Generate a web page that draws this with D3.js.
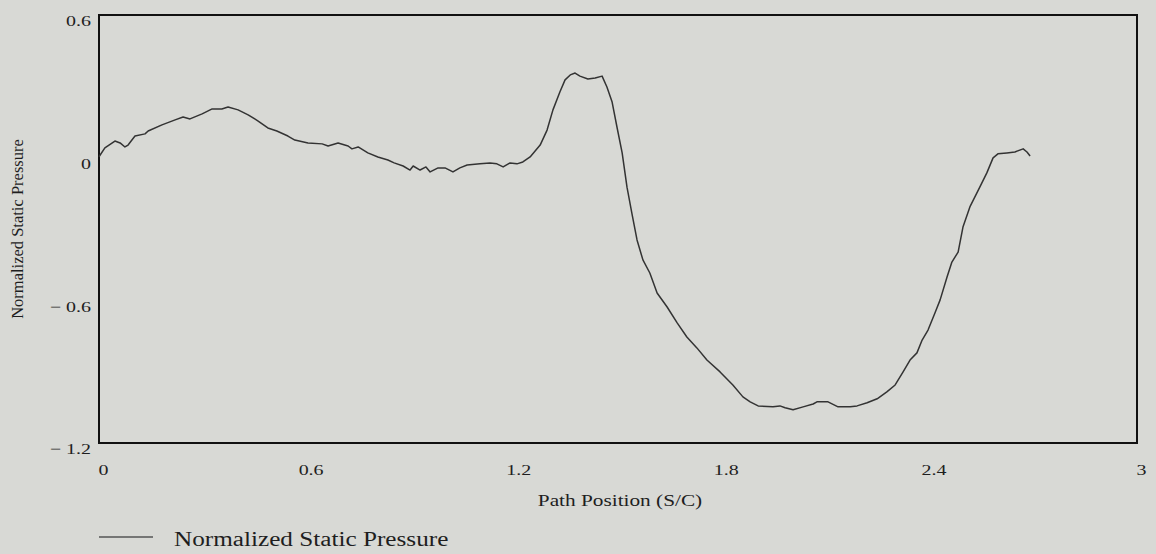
<!DOCTYPE html>
<meta charset="utf-8">
<style>
body {
  margin: 0;
  background: #d8d9d5;
}
svg { display: block; }
text {
  font-family: 'Liberation Serif', 'Times New Roman', serif;
  fill: #1e1e1e;
}
.tick text { font-size: 15px; }
.frame {
  fill: none;
  stroke: #111;
  stroke-width: 2;
}
.series {
  fill: none;
  stroke: #333;
  stroke-width: 1.5;
  stroke-linejoin: round;
}
</style>
<body>
<svg width="1156" height="554"></svg>
<script src="https://cdn.jsdelivr.net/npm/d3@7"></script>
<script>

// values
var pathPos = [0, 0.017, 0.046, 0.061, 0.075, 0.084, 0.104, 0.133, 0.142, 0.182,
  0.220, 0.243, 0.263, 0.298, 0.327, 0.355, 0.373, 0.402, 0.431, 0.460,
  0.488, 0.514, 0.546, 0.566, 0.604, 0.645, 0.662, 0.691, 0.720, 0.731,
  0.749, 0.777, 0.806, 0.835, 0.853, 0.879, 0.899, 0.908, 0.928, 0.945,
  0.957, 0.980, 1.000, 1.023, 1.043, 1.064, 1.101, 1.130, 1.150, 1.168,
  1.188, 1.208, 1.225, 1.246, 1.275, 1.295, 1.312, 1.332, 1.347, 1.362,
  1.376, 1.390, 1.413, 1.434, 1.454, 1.468, 1.483, 1.497, 1.512, 1.526,
  1.540, 1.555, 1.572, 1.592, 1.613, 1.642, 1.671, 1.699, 1.728, 1.757,
  1.795, 1.832, 1.861, 1.882, 1.905, 1.948, 1.968, 1.983, 2.006, 2.035,
  2.064, 2.075, 2.107, 2.136, 2.171, 2.191, 2.220, 2.249, 2.277, 2.301,
  2.324, 2.344, 2.364, 2.379, 2.396, 2.416, 2.431, 2.451, 2.465, 2.483,
  2.497, 2.517, 2.546, 2.566, 2.584, 2.598, 2.624, 2.647, 2.671, 2.682, 2.691];

var pressure = [0.004, 0.041, 0.070, 0.062, 0.045, 0.053, 0.091, 0.100, 0.112, 0.138,
  0.159, 0.171, 0.163, 0.184, 0.205, 0.205, 0.213, 0.201, 0.180, 0.154,
  0.125, 0.112, 0.091, 0.074, 0.062, 0.058, 0.049, 0.062, 0.049, 0.037,
  0.045, 0.020, 0.003, -0.010, -0.022, -0.035, -0.052, -0.035, -0.052, -0.039,
  -0.060, -0.043, -0.043, -0.060, -0.043, -0.031, -0.026, -0.022, -0.026, -0.039,
  -0.022, -0.026, -0.018, 0.003, 0.053, 0.116, 0.201, 0.276, 0.327, 0.348,
  0.356, 0.343, 0.331, 0.335, 0.343, 0.297, 0.234, 0.129, 0.020, -0.124,
  -0.233, -0.346, -0.430, -0.485, -0.569, -0.628, -0.695, -0.754, -0.800, -0.851,
  -0.901, -0.956, -1.006, -1.027, -1.044, -1.048, -1.044, -1.052, -1.060, -1.048,
  -1.036, -1.027, -1.027, -1.048, -1.048, -1.044, -1.031, -1.014, -0.985, -0.956,
  -0.901, -0.851, -0.821, -0.767, -0.725, -0.653, -0.598, -0.502, -0.439, -0.397,
  -0.292, -0.207, -0.123, -0.064, -0.001, 0.016, 0.020, 0.024, 0.037, 0.024, 0.007];

var xTicks = [0, 0.6, 1.2, 1.8, 2.4, 3];
var yTicks = [0.6, 0, -0.6, -1.2];
var xTitle = "Path Position (S/C)";
var yTitle = "Normalized Static Pressure";
var seriesName = "Normalized Static Pressure";

var svg = d3.select("svg");

var x = d3.scaleLinear().domain([0, 3]).range([99, 1137]);
var y = d3.scaleLinear().domain([-1.2, 0.6]).range([443, 15]);

// the scan is stretched sideways, so horizontal text is widened to match
function widen(sel, k) {
  sel.each(function() {
    var w = this.getComputedTextLength();
    d3.select(this)
      .attr("textLength", w * k)
      .attr("lengthAdjust", "spacingAndGlyphs");
  });
}

var xAxis = svg.append("g")
    .attr("transform", "translate(0,443)")
    .call(d3.axisBottom(x).tickValues(xTicks).tickSize(0).tickPadding(21)
      .tickFormat(function(d) { return String(d); }));
xAxis.select(".domain").remove();
xAxis.selectAll("text").attr("dx", 4);
widen(xAxis.selectAll("text"), 1.33);

var yAxis = svg.append("g")
    .attr("transform", "translate(99,0)")
    .call(d3.axisLeft(y).tickValues(yTicks).tickSize(0).tickPadding(8)
      .tickFormat(function(d) { return d < 0 ? "\u2212 " + Math.abs(d) : String(d); }));
yAxis.select(".domain").remove();
yAxis.selectAll("text").attr("dy", "0.72em");
widen(yAxis.selectAll("text"), 1.33);

svg.append("rect")
    .attr("class", "frame")
    .attr("x", x(0))
    .attr("y", y(0.6))
    .attr("width", x(3) - x(0))
    .attr("height", y(-1.2) - y(0.6));

var line = d3.line()
    .x(function(d) { return x(d[0]); })
    .y(function(d) { return y(d[1]); });

svg.append("path")
    .datum(d3.zip(pathPos, pressure))
    .attr("class", "series")
    .attr("d", line);

var xt = svg.append("text")
    .attr("x", 620)
    .attr("y", 506)
    .attr("text-anchor", "middle")
    .style("font-size", "16px")
    .text(xTitle);
widen(xt, 1.33);

svg.append("text")
    .attr("transform", "translate(23,229) rotate(-90)")
    .attr("text-anchor", "middle")
    .style("font-size", "16.5px")
    .text(yTitle);

// legend
svg.append("line")
    .attr("x1", 99).attr("x2", 153)
    .attr("y1", 537).attr("y2", 537)
    .attr("stroke", "#555")
    .attr("stroke-width", 1.5);

var lt = svg.append("text")
    .attr("x", 174)
    .attr("y", 546)
    .style("font-size", "20px")
    .text(seriesName);
widen(lt, 1.26);

</script>
</body>
